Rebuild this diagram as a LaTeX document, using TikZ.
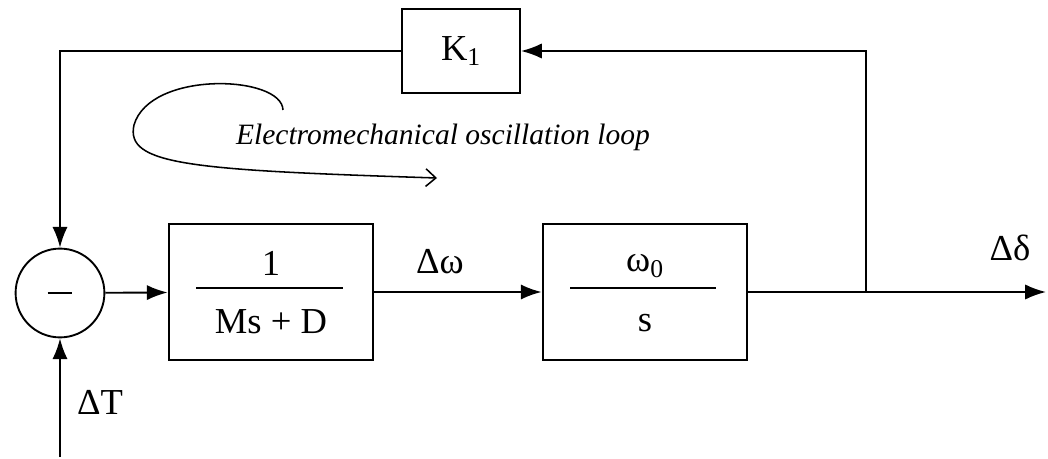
\documentclass[tikz,border=0pt]{standalone}
\usepackage{fontspec}
\setmainfont{Liberation Serif}
\usetikzlibrary{positioning,arrows.meta}
\tikzset{
  flowarrow/.style={-{Latex[length=5.2mm, width=3.8mm]}, line width=1.35pt},
  looparrow/.style={-{Straight Barb[length=2.5mm, width=4.4mm]}, line width=1.1pt},
  block/.style={draw, line width=1.35pt, minimum width=5.12cm, minimum height=3.4cm},
  gainbox/.style={draw, line width=1.35pt, minimum width=2.95cm, minimum height=2.1cm},
  sumnode/.style={draw, circle, line width=1.35pt, minimum size=2.22cm, inner sep=0pt},
  fracbar/.style={line width=1.35pt},
  loopnote/.style={font=\fontsize{21}{25}\selectfont\itshape}
}

\begin{document}
\begin{tikzpicture}[x=0.025cm, y=-0.025cm, every node/.style={font=\fontsize{26}{30}\selectfont}]
  \useasboundingbox (0,0) rectangle (1048,459);
  % blocks
  \node[sumnode] (sum) at (60,293) {\rule{0.62cm}{1.5pt}};
  \node[block] (inertia) at (271,292) {};
  \node[block] (integ) at (645,292) {};
  \node[gainbox] (gain) at (461,51) {K\textsubscript{1}};
  % fractions
  \node (num1) at (271,263) {1};
  \node (den1) at (271,322) {Ms + D};
  \draw[fracbar] (196,288) -- (343,288);
  \node (num2) at (645,266) {ω\textsubscript{0}};
  \node (den2) at (645,323) {s};
  \draw[fracbar] (570,288) -- (716,288);
  % signal labels
  \node (dw) at (440,262) {Δω};
  \node (dd) at (1010,248) {Δδ};
  \node (dT) at (100,402) {ΔT};
  \node[loopnote] (osc) at (443,137) {Electromechanical oscillation loop};
  % connectors
  \coordinate (tap) at (866,292);
  \coordinate (out) at (1046,292);
  \coordinate (tin) at (60,457);
  \draw[flowarrow] (sum) -- (inertia);
  \draw[flowarrow] (inertia) -- (integ);
  \draw[flowarrow] (integ) -- (out);
  \draw[flowarrow] (tap) |- (gain.east);
  \draw[flowarrow] (gain.west) -| (sum.north);
  \draw[flowarrow] (tin) -- (sum.south);
  % loop sketch
  \draw[looparrow] (283,110) .. controls (282,75) and (150,70) .. (134,125)
    .. controls (125,165) and (190,170) .. (437,178);
\end{tikzpicture}
\end{document}
